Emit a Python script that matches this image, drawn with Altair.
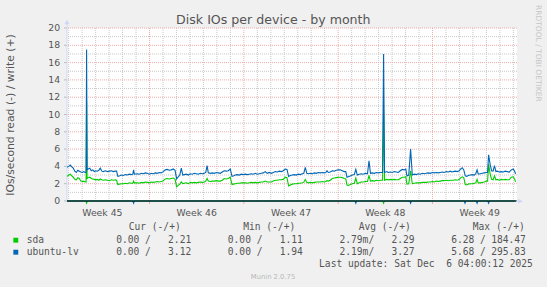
import altair as alt
import pandas as pd

# ---------------- data ----------------
START_UTC = "2025-11-02T21:00:00Z"   # left edge of the month graph
END_OFFSET_H = 801.5                  # right edge, hours after start

hours = [
    0, 3.2, 5.9, 8.5, 11.2, 13.9, 16.6, 19.2, 21.9, 24.6,
    27.2, 29.9, 32.2, 34.0, 34.9, 35.8, 37.6, 40.6, 43.3, 46.0,
    48.6, 51.3, 54.0, 56.6, 59.3, 62.0, 64.7, 68.2, 71.8, 75.3,
    78.9, 82.5, 86.0, 88.3, 90.5, 93.1, 96.7, 100.3, 103.8, 107.4,
    111.0, 114.5, 117.2, 118.6, 120.0, 125.2, 128.8, 132.3, 135.9, 139.5,
    143.0, 146.6, 150.1, 153.7, 157.3, 160.8, 164.4, 167.9, 171.5, 175.1,
    178.6, 182.2, 185.8, 189.3, 192.5, 195.2, 198.2, 200.9, 203.6, 206.2,
    208.9, 212.5, 216.0, 219.6, 223.2, 226.7, 230.3, 233.8, 237.4, 241.0,
    244.5, 247.2, 249.5, 251.7, 255.2, 258.8, 262.3, 265.9, 269.5, 273.0,
    276.6, 280.1, 283.7, 287.3, 290.8, 293.9, 296.2, 299.7, 303.3, 306.9,
    310.4, 314.0, 317.6, 321.1, 324.7, 328.2, 331.8, 335.4, 338.9, 342.5,
    346.0, 349.6, 353.2, 356.7, 360.3, 363.9, 367.4, 371.0, 374.5, 378.1,
    381.7, 385.2, 388.8, 391.8, 394.7, 397.7, 401.3, 404.8, 408.4, 411.9,
    415.5, 419.1, 421.7, 424.4, 427.1, 429.8, 433.3, 436.9, 440.4, 444.0,
    447.6, 451.1, 454.7, 458.3, 460.9, 463.1, 465.4, 468.9, 472.5, 476.1,
    479.6, 483.2, 486.7, 490.3, 493.9, 496.5, 498.7, 501.0, 504.6, 508.1,
    511.7, 514.4, 517.0, 520.6, 524.1, 527.7, 531.3, 535.2, 537.9, 540.5,
    543.7, 547.3, 550.9, 554.4, 558.0, 562.1, 563.9, 565.6, 569.6, 572.2,
    575.8, 579.4, 582.9, 586.5, 590.0, 593.6, 597.2, 600.7, 603.4, 605.5,
    608.7, 612.0, 615.0, 618.6, 622.1, 625.7, 629.2, 632.8, 636.4, 639.9,
    643.5, 647.0, 650.6, 654.2, 657.7, 661.3, 664.8, 668.4, 672.0, 675.5,
    679.1, 682.7, 685.3, 688.0, 691.6, 695.1, 698.7, 701.4, 704.0, 706.7,
    709.4, 712.0, 714.7, 718.3, 721.8, 725.4, 728.1, 730.4, 732.5, 736.1,
    739.7, 743.2, 746.8, 749.1, 750.9, 753.5, 756.2, 758.9, 761.4, 763.9,
    766.4, 769.9, 773.5, 777.1, 780.6, 784.2, 787.7, 791.3, 794.9, 797.5,
    799.0,
]

ubuntu_write = [
    3.9, 4.0, 4.15, 3.95, 3.8, 3.45, 3.3, 3.55, 3.45, 3.35,
    3.3, 3.4, 3.3, 3.3, 17.5, 3.6, 3.7, 3.8, 3.5, 3.6,
    3.4, 3.5, 3.45, 3.55, 3.8, 3.45, 3.4, 3.5, 3.4, 3.45,
    3.5, 3.4, 3.45, 3.45, 2.85, 2.9, 3.0, 2.95, 3.05, 3.0,
    3.1, 3.05, 3.1, 3.6, 3.1, 3.15, 3.1, 3.2, 3.15, 3.25,
    3.2, 3.1, 3.2, 3.15, 3.25, 3.2, 3.3, 3.25, 3.4, 3.6,
    3.65, 3.55, 3.6, 3.7, 3.55, 2.55, 2.8, 3.0, 3.8, 3.0,
    3.05, 3.1, 3.0, 3.15, 3.1, 3.2, 3.15, 3.1, 3.2, 3.15,
    3.2, 3.3, 4.1, 3.25, 3.2, 3.25, 3.2, 3.3, 3.25, 3.2,
    3.35, 3.5, 3.45, 3.5, 3.7, 2.85, 2.9, 3.0, 3.05, 3.0,
    3.1, 3.05, 3.1, 3.05, 3.1, 3.15, 3.1, 3.2, 3.1, 3.15,
    3.2, 3.25, 3.4, 3.2, 3.3, 3.2, 3.3, 3.4, 3.35, 3.45,
    3.4, 3.5, 3.7, 3.65, 2.85, 2.95, 3.0, 3.05, 3.0, 3.1,
    3.05, 3.15, 3.2, 3.9, 3.2, 3.15, 3.2, 3.15, 3.25, 3.2,
    3.3, 3.25, 3.3, 3.25, 3.3, 3.5, 3.3, 3.35, 3.5, 3.45,
    3.55, 3.6, 3.6, 3.5, 3.4, 3.4, 2.75, 2.8, 2.9, 3.0,
    3.05, 3.65, 3.0, 3.1, 3.15, 3.1, 3.2, 3.15, 4.65, 3.2,
    3.25, 3.2, 3.3, 3.25, 3.3, 3.3, 17.0, 3.3, 3.4, 3.3,
    3.35, 3.3, 3.4, 3.35, 3.3, 3.5, 3.65, 3.6, 3.7, 2.9,
    3.0, 6.0, 3.0, 3.1, 3.05, 3.15, 3.1, 3.2, 3.15, 3.2,
    3.25, 3.2, 3.3, 3.25, 3.3, 3.25, 3.3, 3.35, 3.3, 3.4,
    3.35, 3.45, 3.35, 3.4, 3.45, 3.4, 3.5, 3.7, 3.85, 3.6,
    2.9, 2.85, 2.95, 3.0, 3.05, 3.0, 3.15, 3.6, 3.1, 3.15,
    3.2, 3.25, 3.3, 3.3, 5.35, 4.3, 3.5, 3.45, 4.1, 3.4,
    3.45, 3.35, 3.4, 3.35, 3.45, 3.4, 3.35, 3.6, 3.7, 3.4,
    3.12,
]

sda_write = [
    2.85, 3.0, 3.1, 2.9, 2.75, 2.5, 2.45, 2.7, 2.6, 2.3,
    2.25, 2.3, 2.2, 2.2, 11.5, 2.6, 2.7, 2.75, 2.6, 2.55,
    2.5, 2.45, 2.5, 2.4, 2.55, 2.45, 2.4, 2.45, 2.4, 2.35,
    2.45, 2.4, 2.45, 2.4, 1.9, 1.95, 2.0, 2.0, 2.05, 2.0,
    2.1, 2.05, 2.05, 2.3, 2.1, 2.1, 2.05, 2.15, 2.1, 2.2,
    2.15, 2.1, 2.2, 2.15, 2.2, 2.25, 2.2, 2.25, 2.35, 2.55,
    2.6, 2.55, 2.6, 2.65, 2.5, 1.65, 1.8, 1.95, 2.2, 2.0,
    2.05, 2.1, 2.0, 2.15, 2.1, 2.15, 2.1, 2.15, 2.2, 2.15,
    2.2, 2.3, 2.6, 2.3, 2.25, 2.3, 2.3, 2.35, 2.3, 2.3,
    2.4, 2.6, 2.55, 2.6, 2.75, 1.9, 1.95, 2.0, 2.05, 2.05,
    2.1, 2.1, 2.1, 2.05, 2.1, 2.15, 2.1, 2.15, 2.1, 2.15,
    2.2, 2.2, 2.3, 2.2, 2.2, 2.2, 2.3, 2.4, 2.4, 2.45,
    2.45, 2.5, 2.75, 2.7, 1.75, 1.85, 1.95, 2.0, 2.0, 2.05,
    2.05, 2.1, 2.15, 2.5, 2.15, 2.1, 2.15, 2.1, 2.15, 2.2,
    2.2, 2.2, 2.25, 2.2, 2.25, 2.35, 2.3, 2.4, 2.6, 2.65,
    2.7, 2.75, 2.75, 2.7, 2.6, 2.55, 1.85, 1.8, 1.9, 2.0,
    2.05, 2.65, 2.0, 2.1, 2.2, 2.2, 2.25, 2.25, 2.95, 2.3,
    2.35, 2.3, 2.4, 2.35, 2.4, 2.4, 10.5, 2.4, 2.5, 2.45,
    2.5, 2.45, 2.5, 2.45, 2.45, 2.6, 2.75, 2.75, 2.8, 1.95,
    2.0, 3.5, 2.0, 2.05, 2.1, 2.1, 2.1, 2.15, 2.15, 2.15,
    2.2, 2.2, 2.25, 2.2, 2.3, 2.25, 2.3, 2.35, 2.35, 2.4,
    2.35, 2.4, 2.4, 2.4, 2.45, 2.4, 2.5, 2.7, 2.8, 2.7,
    1.9, 1.85, 1.95, 2.0, 2.0, 2.05, 2.1, 2.5, 2.1, 2.1,
    2.15, 2.2, 2.3, 2.3, 4.25, 3.2, 2.5, 2.45, 2.9, 2.45,
    2.5, 2.4, 2.5, 2.45, 2.5, 2.45, 2.45, 2.75, 2.8, 2.5,
    2.21,
]

# read side (plotted negative), practically zero
sda_read_hours = [0, 33.5, 34.9, 36.3, 562.5, 563.9, 565.3, 799.0]
sda_read = [0, 0, -0.25, 0, 0, -0.25, 0, 0]
ubuntu_read_hours = [0, 117.2, 118.6, 120.0, 513.0, 514.4, 515.8, 610.6, 612.0, 613.4,
                     707.5, 708.9, 710.3, 729.0, 730.4, 731.8, 749.5, 750.9, 752.3, 799.0]
ubuntu_read = [0, 0, -0.25, 0, 0, -0.25, 0, 0, -0.25, 0,
               0, -0.25, 0, 0, -0.25, 0, 0, -0.25, 0, 0]

week_numbers = [45, 46, 47, 48, 49]
week_label_hours = [63, 231, 399, 567, 735]            # mid-week (Wed 12:00)
sunday_hours = [147, 315, 483, 651]                    # week starts (Sun 00:00)
day_hours = [3 + 24 * k for k in range(34) if (3 + 24 * k) not in sunday_hours]
y_major = list(range(0, 21, 2))
y_minor = list(range(1, 20, 2))
zero_line = [0]

series_names = ["sda", "ubuntu-lv"]
series_colors = ["#00CC00", "#0066B3"]
cur_read = ["0.00", "0.00"]
cur_write = ["2.21", "3.12"]
min_read = ["0.00", "0.00"]
min_write = ["1.11", "1.94"]
avg_read = ["2.79m", "2.19m"]
avg_write = ["2.29", "3.27"]
max_read = ["6.28", "5.68"]
max_write = ["184.47", "295.83"]
column_heads = ["Cur (-/+)", "Min (-/+)", "Avg (-/+)", "Max (-/+)"]
title_text = "Disk IOs per device - by month"
y_title = "IOs/second read (-) / write (+)"
last_update = "Last update: Sat Dec  6 04:00:12 2025"
footer = "Munin 2.0.75"
watermark = "RRDTOOL / TOBI OETIKER"

# ---------------- helpers ----------------
t0 = pd.Timestamp(START_UTC).value // 10**6
HOUR = 3_600_000


def ms(hs):
    return [int(t0 + h * HOUR) for h in hs]


FONT = "#555555"
AXIS = "#CFD6F8"
GRID = "#c8c8c8"
MGRID = "#f0aaaa"
MONO = "DejaVu Sans Mono"
SANS = "DejaVu Sans"

one = pd.DataFrame({"k": [0]})

x_enc = alt.X("t:T", axis=None,
              scale=alt.Scale(type="utc", domain=[t0, int(t0 + END_OFFSET_H * HOUR)]))
y_enc = alt.Y("v:Q", axis=None, scale=alt.Scale(domain=[0, 20], nice=False, zero=False))


def line(hs, vals, color, width):
    df = pd.DataFrame({"t": ms(hs), "v": vals})
    return alt.Chart(df).mark_line(color=color, strokeWidth=width).encode(x=x_enc, y=y_enc)


def txt(text, x, y, size=9.6, font=MONO, align="left", baseline="middle", color=FONT, angle=None):
    kw = dict(text=text.replace("  ", " \u00a0"), font=font, fontSize=size, align=align,
              baseline=baseline, color=color)
    if angle is not None:
        kw["angle"] = angle
    return alt.Chart(one).mark_text(**kw).encode(x=alt.value(x), y=alt.value(y))


layers = []

# grid: minor (gray dotted), major (red dotted)
layers.append(alt.Chart(pd.DataFrame({"v": y_minor})).mark_rule(
    color=GRID, strokeDash=[1, 1], strokeWidth=1).encode(y=y_enc))
layers.append(alt.Chart(pd.DataFrame({"t": ms(day_hours)})).mark_rule(
    color=GRID, strokeDash=[1, 1], strokeWidth=1).encode(x=x_enc))
layers.append(alt.Chart(pd.DataFrame({"v": y_major})).mark_rule(
    color=MGRID, strokeDash=[1, 1], strokeWidth=1).encode(y=y_enc))
layers.append(alt.Chart(pd.DataFrame({"t": ms(sunday_hours)})).mark_rule(
    color=MGRID, strokeDash=[1, 1], strokeWidth=1).encode(x=x_enc))

# axis ticks
layers.append(alt.Chart(pd.DataFrame({"t": ms(sunday_hours)})).mark_rule(
    color=MGRID, strokeWidth=1).encode(x=x_enc, y=alt.value(173), y2=alt.value(176)))
layers.append(alt.Chart(pd.DataFrame({"v": y_major})).mark_rule(
    color="#bbbbbb", strokeWidth=1).encode(y=y_enc, x=alt.value(-3), x2=alt.value(0)))

# y tick labels
layers.append(alt.Chart(pd.DataFrame({"v": y_major})).mark_text(
    font=SANS, fontSize=9.3, color=FONT, align="right", baseline="middle").encode(
    y=y_enc, x=alt.value(-6.8), text=alt.Text("v:Q", format="d")))

# y axis line with arrow
layers.append(alt.Chart(one).mark_rule(color=AXIS).encode(
    x=alt.value(0), y=alt.value(-5), y2=alt.value(174)))
layers.append(alt.Chart(one).mark_point(shape="triangle-up", filled=True, size=26,
                                        color=AXIS, opacity=1).encode(
    x=alt.value(0), y=alt.value(-6)))

# read lines (negative side)
layers.append(line(sda_read_hours, sda_read, series_colors[0], 1.1))
layers.append(line(ubuntu_read_hours, ubuntu_read, series_colors[1], 1.1))

# zero line
layers.append(alt.Chart(pd.DataFrame({"v": zero_line})).mark_rule(
    color="black", strokeWidth=1).encode(y=y_enc))

# write lines
layers.append(line(hours, sda_write, series_colors[0], 1.1))
layers.append(line(hours, ubuntu_write, series_colors[1], 1.1))

# x axis arrow
layers.append(alt.Chart(one).mark_rule(color=AXIS).encode(
    x=alt.value(449), x2=alt.value(452), y=alt.value(173.3)))
layers.append(alt.Chart(one).mark_point(shape="triangle-right", filled=True, size=26,
                                        color=AXIS, opacity=1).encode(
    x=alt.value(453.5), y=alt.value(173.3)))

# week labels
wk = pd.DataFrame({"t": ms(week_label_hours), "label": [f"Week {w}" for w in week_numbers]})
layers.append(alt.Chart(wk).mark_text(font=SANS, fontSize=9.3, color=FONT, baseline="middle",
                                      align="center").encode(
    x=x_enc, y=alt.value(185.3), text="label:N"))

# titles
layers.append(txt(title_text, 206.3, -4, size=12.6, font=SANS, align="center", baseline="alphabetic"))
layers.append(txt(y_title, -56.2, 87, size=10.8, font=SANS, align="center", angle=270))
layers.append(txt(watermark, 471.3, 25.3, size=7.5, font=SANS, align="center",
                  color="#c6c6c6", angle=90))

# legend
head_x = [61.7, 176.2, 291.7, 405.8]
read_x = [49.2, 160.8, 272.5, 384.2]
write_x = [124.2, 235.9, 347.5, 458.8]
row_y = [212, 224]
for hx, h in zip(head_x, column_heads):
    layers.append(txt(h, hx, 198.7))
for i, name in enumerate(series_names):
    yy = row_y[i]
    layers.append(alt.Chart(one).mark_square(size=24, color=series_colors[i], filled=True,
                                             opacity=1).encode(x=alt.value(-51.2), y=alt.value(yy + 0.2)))
    layers.append(txt(name, -40.3, yy))
    reads = [cur_read[i], min_read[i], avg_read[i], max_read[i]]
    writes = [cur_write[i], min_write[i], avg_write[i], max_write[i]]
    for c in range(4):
        rtxt = reads[c] + "/" if reads[c].endswith("m") else reads[c] + " /"
        layers.append(txt(rtxt, read_x[c], yy))
        layers.append(txt(writes[c], write_x[c], yy, align="right"))

layers.append(txt(last_update, 465.8, 236.3, align="right"))
layers.append(txt(footer, 206, 249, size=6.8, font=SANS, align="center", color="#b8b8b8"))

chart = alt.layer(*layers).properties(
    width=450,
    height=173,
    autosize=alt.AutoSizeParams(type="none"),
    padding={"left": 67, "top": 28, "right": 30, "bottom": 86},
    background="#F0F0F0",
).configure_view(strokeWidth=0, fill="white")

chart.save("out.html", embed_options={"renderer": "svg", "actions": False})
